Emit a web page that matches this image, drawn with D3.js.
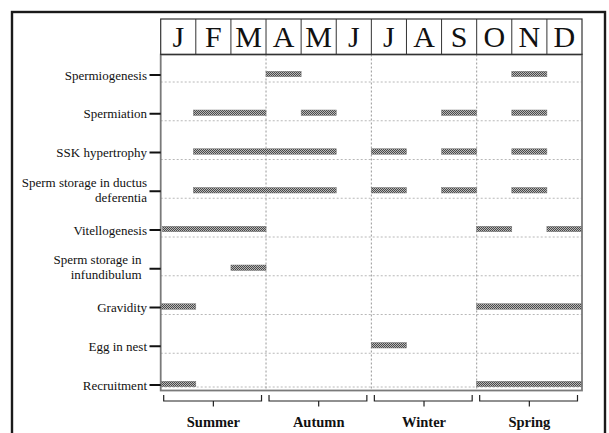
<!DOCTYPE html>
<html>
<head>
<meta charset="utf-8">
<script src="https://cdn.jsdelivr.net/npm/d3@7"></script>
<style>
  html, body { margin: 0; padding: 0; background: #fff; }
  svg { display: block; }
</style>
</head>
<body>
<svg id="chart" width="609" height="433"></svg>
<script>
// ---- data ----
const months = ["J", "F", "M", "A", "M", "J", "J", "A", "S", "O", "N", "D"];
const seasons = ["Summer", "Autumn", "Winter", "Spring"];
const categories = [
  "Spermiogenesis",
  "Spermiation",
  "SSK hypertrophy",
  "Sperm storage in ductus deferentia",
  "Vitellogenesis",
  "Sperm storage in infundibulum",
  "Gravidity",
  "Egg in nest",
  "Recruitment"
];
const categoryLines = [
  ["Spermiogenesis"],
  ["Spermiation"],
  ["SSK hypertrophy"],
  ["Sperm storage in ductus", "deferentia"],
  ["Vitellogenesis"],
  ["Sperm storage in", "infundibulum"],
  ["Gravidity"],
  ["Egg in nest"],
  ["Recruitment"]
];
// periods: [start month, end month] on a 0..12 month axis
const spermiogenesis = [[3, 4], [10, 11]];
const spermiation = [[0.93, 3], [4, 5], [8, 9], [10, 11]];
const sskHypertrophy = [[0.93, 5], [6, 7], [8, 9], [10, 11]];
const spermStorageDuctus = [[0.93, 5], [6, 7], [8, 9], [10, 11]];
const vitellogenesis = [[0.05, 3], [9, 10], [11, 12]];
const spermStorageInfund = [[2, 3]];
const gravidity = [[0, 1], [9, 12]];
const eggInNest = [[6, 7]];
const recruitment = [[0, 1], [9, 12]];
const periods = [spermiogenesis, spermiation, sskHypertrophy, spermStorageDuctus,
  vitellogenesis, spermStorageInfund, gravidity, eggInNest, recruitment];

// ---- layout ----
const svg = d3.select("#chart");
const L = 160.7, R = 582, headTop = 19, headBot = 54.5, plotBot = 390.5;
const x = d3.scaleLinear().domain([0, 12]).range([L, R]);
const y = d3.scalePoint().domain(categories).range([75, 385]);

// pattern for bars
const defs = svg.append("defs");
const pat = defs.append("pattern").attr("id", "hatch")
  .attr("width", 2).attr("height", 2).attr("patternUnits", "userSpaceOnUse");
pat.append("rect").attr("width", 2).attr("height", 2).attr("fill", "#b8b8b8");
pat.append("rect").attr("width", 1).attr("height", 1).attr("fill", "#4a4a4a");
pat.append("rect").attr("x", 1).attr("y", 1).attr("width", 1).attr("height", 1).attr("fill", "#4a4a4a");

// outer frame
svg.append("rect").attr("x", 12).attr("y", 12).attr("width", 593).attr("height", 440)
  .attr("fill", "none").attr("stroke", "#1a1a1a").attr("stroke-width", 2.4);

// horizontal dashed grid lines
svg.append("g").selectAll("line").data(categories).join("line")
  .attr("x1", L).attr("x2", R)
  .attr("y1", d => Math.min(y(d) + 7, plotBot - 3.5))
  .attr("y2", d => Math.min(y(d) + 7, plotBot - 3.5))
  .attr("stroke", "#b0b0b0").attr("stroke-width", 0.9).attr("stroke-dasharray", "2,2");

// season dotted vertical lines
svg.append("g").selectAll("line").data([3, 6, 9]).join("line")
  .attr("x1", d => x(d)).attr("x2", d => x(d))
  .attr("y1", headBot).attr("y2", plotBot)
  .attr("stroke", "#8c8c8c").attr("stroke-width", 0.9).attr("stroke-dasharray", "2,2");

// bars
const barH = 5.5;
const barG = svg.append("g");
periods.forEach((segs, i) => {
  barG.selectAll(null).data(segs).join("rect")
    .attr("x", d => x(d[0]))
    .attr("width", d => x(d[1]) - x(d[0]))
    .attr("y", y(categories[i]) - barH / 2 - 1)
    .attr("height", barH)
    .attr("fill", "url(#hatch)")
    .attr("stroke", "#777").attr("stroke-width", 0.5);
});

// plot frame
svg.append("rect").attr("x", L).attr("y", headBot).attr("width", R - L).attr("height", plotBot - headBot)
  .attr("fill", "none").attr("stroke", "#7a7a7a").attr("stroke-width", 1.8);

// month header
const head = svg.append("g");
head.append("rect").attr("x", L).attr("y", headTop).attr("width", R - L).attr("height", headBot - headTop)
  .attr("fill", "none").attr("stroke", "#333").attr("stroke-width", 1.2);
head.selectAll("line").data(d3.range(1, 12)).join("line")
  .attr("x1", d => x(d)).attr("x2", d => x(d))
  .attr("y1", headTop).attr("y2", headBot)
  .attr("stroke", "#333").attr("stroke-width", 1);
head.selectAll("text").data(months).join("text")
  .attr("x", (d, i) => x(i + 0.5)).attr("y", 46.5)
  .attr("text-anchor", "middle")
  .attr("font-family", "'Liberation Serif', 'Times New Roman', serif")
  .attr("font-size", 30).attr("fill", "#111")
  .text(d => d);

// y axis ticks and labels
const yAxis = svg.append("g");
yAxis.selectAll("line").data(categories).join("line")
  .attr("x1", 149.5).attr("x2", L)
  .attr("y1", d => y(d)).attr("y2", d => y(d))
  .attr("stroke", "#111").attr("stroke-width", 2);
categories.forEach((c, i) => {
  const lines = categoryLines[i];
  const t = yAxis.append("text")
    .attr("font-family", "'Liberation Serif', 'Times New Roman', serif")
    .attr("font-size", 13).attr("fill", "#111")
    .attr("text-anchor", "end");
  const lh = 15;
  const x0 = c === "Sperm storage in infundibulum" ? 141.5 : 147;
  lines.forEach((ln, j) => {
    t.append("tspan").attr("x", x0)
      .attr("y", y(c) + 4.5 + (j - (lines.length - 1) / 2) * lh - (lines.length > 1 ? 1.5 : 0))
      .text(ln);
  });
});

// season brackets
const br = svg.append("g").attr("fill", "none").attr("stroke", "#222").attr("stroke-width", 1.2);
seasons.forEach((s, i) => {
  const a = x(i * 3) + 3, b = x(i * 3 + 3) - 4.5, m = (x(i * 3) + x(i * 3 + 3)) / 2;
  br.append("path").attr("d", `M${a},395 V401 H${b} V395 M${m},401 V406.5`);
});
svg.append("g").selectAll("text").data(seasons).join("text")
  .attr("x", (d, i) => x(i * 3 + 1.5))
  .attr("y", 427)
  .attr("text-anchor", "middle")
  .attr("font-family", "'Liberation Serif', 'Times New Roman', serif")
  .attr("font-weight", "bold").attr("font-size", 14.5).attr("fill", "#111")
  .text(d => d);
</script>
</body>
</html>
